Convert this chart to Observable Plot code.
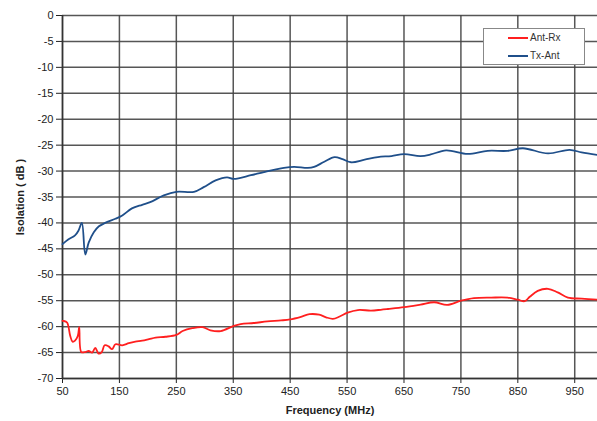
<!DOCTYPE html>
<html>
<head>
<meta charset="utf-8">
<script src="https://cdn.jsdelivr.net/npm/d3@7"></script>
<script src="https://cdn.jsdelivr.net/npm/@observablehq/plot@0.6"></script>
<style>
  body { margin: 0; background: #fff; font-family: "Liberation Sans", Arial, sans-serif; }
  #wrap { position: relative; width: 597px; height: 421px; }
  #wrap svg { font-family: "Liberation Sans", Arial, sans-serif; }
  g[aria-label="x-axis label"] text, g[aria-label="y-axis label"] text { font-weight: bold; font-size: 11px; }
  #legend { position: absolute; left: 483px; top: 28px; width: 102px; height: 37px; border: 1px solid #888; background: #fff; box-sizing: border-box; font-size: 10px; color: #333; }
  .item { position: absolute; left: 24px; height: 12px; line-height: 12px; }
  .sw { display: inline-block; width: 20px; height: 2px; vertical-align: middle; margin-right: 2px; }
</style>
</head>
<body>
<div id="wrap"></div>
<script>
const freqTxAnt = [50, 60, 72, 78, 84, 90, 96, 105, 114, 125, 143, 155, 172, 190, 204, 228, 250, 281, 298, 319, 339, 351, 381, 404, 439, 457, 481, 492, 510, 528, 542, 557, 581, 604, 628, 650, 679, 697, 724, 762, 797, 832, 859, 903, 941, 962, 990];
const txAnt = [-44.1, -43.2, -42.4, -41.5, -40.0, -46.1, -43.8, -41.8, -40.65, -40.0, -39.2, -38.55, -37.2, -36.5, -36.0, -34.7, -34.0, -34.0, -33.1, -31.8, -31.2, -31.5, -30.8, -30.2, -29.4, -29.2, -29.4, -29.2, -28.2, -27.3, -27.7, -28.3, -27.8, -27.3, -27.1, -26.75, -27.1, -26.8, -26.0, -26.7, -26.1, -26.1, -25.6, -26.6, -25.9, -26.4, -26.9];

const freqAntRx = [50, 52, 58, 63.5, 67.6, 72, 77, 79.4, 83, 90, 96, 102, 107.6, 113.5, 119, 124, 131, 137, 143, 155, 166.5, 178, 190, 202, 213.5, 231, 250, 261, 278, 296, 310, 328, 350, 363, 386, 410, 434, 450, 469, 484, 501, 513, 525, 537, 551, 569, 592, 609, 622, 650, 679, 703, 726, 750, 773, 803, 832, 850, 862, 871, 885, 903, 920, 938, 962, 990];
const antRx = [-58.9, -58.9, -59.2, -61.75, -62.9, -62.7, -61.75, -60.1, -64.9, -64.9, -64.7, -65.0, -64.1, -65.2, -64.9, -63.6, -63.8, -64.35, -63.4, -63.6, -63.2, -62.9, -62.7, -62.4, -62.1, -61.95, -61.6, -60.85, -60.3, -60.1, -60.7, -60.85, -59.9, -59.5, -59.3, -59.0, -58.8, -58.6, -58.1, -57.6, -57.7, -58.2, -58.5, -58.05, -57.3, -56.8, -56.9, -56.75, -56.6, -56.25, -55.75, -55.3, -55.8, -55.0, -54.5, -54.4, -54.4, -54.8, -55.1, -54.25, -53.1, -52.7, -53.4, -54.4, -54.6, -54.8];

const xTicks = [50, 150, 250, 350, 450, 550, 650, 750, 850, 950];
const yTicks = [0, -5, -10, -15, -20, -25, -30, -35, -40, -45, -50, -55, -60, -65, -70];
const seriesNames = ["Ant-Rx", "Tx-Ant"];
const seriesColors = ["#ff1f1f", "#1f4f8a"];

const txData = freqTxAnt.map((f, i) => ({f, v: txAnt[i]}));
const rxData = freqAntRx.map((f, i) => ({f, v: antRx[i]}));

const chart = Plot.plot({
  width: 597,
  height: 421,
  marginLeft: 62,
  marginRight: 0,
  marginTop: 15,
  marginBottom: 43,
  style: {fontSize: "11px", color: "#222", background: "#fff"},
  x: {domain: [50, 990], ticks: xTicks, tickSize: 5, tickPadding: 4, tickFormat: d => String(d), label: "Frequency (MHz)", labelAnchor: "center", labelOffset: 35, labelArrow: "none"},
  y: {domain: [-70, 0], ticks: yTicks, tickSize: 6, tickPadding: 3, tickFormat: d => String(d), label: "Isolation ( dB )", labelAnchor: "center", labelOffset: 46, labelArrow: "none"},
  marks: [
    Plot.gridX(xTicks, {stroke: "#444", strokeOpacity: 0.9, strokeWidth: 1.5}),
    Plot.gridY(yTicks, {stroke: "#444", strokeOpacity: 0.9, strokeWidth: 1.5}),
    Plot.ruleX([50], {stroke: "#333", strokeWidth: 1.5}),
    Plot.ruleY([-70], {stroke: "#333", strokeWidth: 1.5}),
    Plot.line(rxData, {x: "f", y: "v", stroke: seriesColors[0], strokeWidth: 1.8, curve: "catmull-rom"}),
    Plot.line(txData, {x: "f", y: "v", stroke: seriesColors[1], strokeWidth: 1.8, curve: "catmull-rom"})
  ]
});
const wrap = document.getElementById("wrap");
wrap.appendChild(chart);

const legend = document.createElement("div");
legend.id = "legend";
seriesNames.forEach((name, i) => {
  const item = document.createElement("div");
  item.className = "item";
  item.style.top = (i === 0 ? 3 : 21) + "px";
  item.innerHTML = `<span class="sw" style="background:${seriesColors[i]}"></span>${name}`;
  legend.appendChild(item);
});
wrap.appendChild(legend);
</script>
</body>
</html>
